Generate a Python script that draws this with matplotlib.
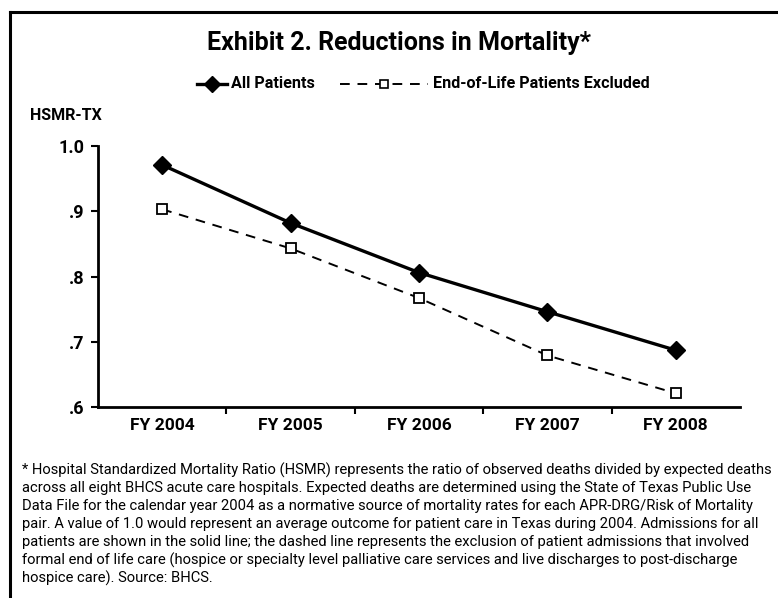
import matplotlib
matplotlib.use("Agg")
import matplotlib.pyplot as plt
from matplotlib import font_manager as fm
from matplotlib.lines import Line2D

names = {f.name for f in fm.fontManager.ttflist}
narrow = "Liberation Sans Narrow" if "Liberation Sans Narrow" in names else "Roboto"

categories = ["FY 2004", "FY 2005", "FY 2006", "FY 2007", "FY 2008"]
all_patients = [0.971, 0.882, 0.806, 0.746, 0.687]
eol_excluded = [0.903, 0.843, 0.767, 0.679, 0.621]
yticks = [0.6, 0.7, 0.8, 0.9, 1.0]
ytick_labels = [".6", ".7", ".8", ".9", "1.0"]
title = "Exhibit 2. Reductions in Mortality*"
ylabel = "HSMR-TX"
series_names = ["All Patients", "End-of-Life Patients Excluded"]
footnote = [
    "* Hospital Standardized Mortality Ratio (HSMR) represents the ratio of observed deaths divided by expected deaths",
    "across all eight BHCS acute care hospitals. Expected deaths are determined using the State of Texas Public Use",
    "Data File for the calendar year 2004 as a normative source of mortality rates for each APR-DRG/Risk of Mortality",
    "pair. A value of 1.0 would represent an average outcome for patient care in Texas during 2004. Admissions for all",
    "patients are shown in the solid line; the dashed line represents the exclusion of patient admissions that involved",
    "formal end of life care (hospice or specialty level palliative care services and live discharges to post-discharge",
    "hospice care). Source: BHCS.",
]

W, H = 778, 598
fig = plt.figure(figsize=(W / 100, H / 100), dpi=100)
fig.patch.set_facecolor("white")

# border (top and left)
fig.add_artist(Line2D([10 / W, 1.0], [1 - 12 / H, 1 - 12 / H], color="black", lw=2.2))
fig.add_artist(Line2D([10 / W, 10 / W], [0, 1 - 12 / H], color="black", lw=2.2))

ax = fig.add_axes([98 / W, 1 - 407 / H, (740 - 98) / W, (407 - 146) / H])
x = list(range(len(categories)))
ax.plot(x, all_patients, color="black", lw=2.4, marker="D", markersize=9,
        markerfacecolor="black", markeredgecolor="black", zorder=3)
ax.plot(x, eol_excluded, color="black", lw=1.4, ls=(0, (5, 4)), marker="s", markersize=6.5,
        markerfacecolor="white", markeredgecolor="black", markeredgewidth=1.3, zorder=3)

ax.set_xlim(-0.5, len(categories) - 0.5)
ax.set_ylim(0.6, 1.0)
ax.set_yticks(yticks)
ax.set_yticklabels(ytick_labels, fontsize=13, fontweight="bold", family=narrow)
ax.set_xticks(x)
ax.set_xticklabels(categories, fontsize=12.5, fontweight="bold", family=narrow)
ax.tick_params(axis="x", which="major", length=0, pad=8)
ax.set_xticks([i - 0.5 for i in range(1, len(categories))], minor=True)
ax.tick_params(axis="x", which="minor", length=5, width=1.5, direction="out")
ax.tick_params(axis="y", which="major", length=5, width=1.5, direction="out", pad=5)
for s in ["top", "right"]:
    ax.spines[s].set_visible(False)
for s in ["left", "bottom"]:
    ax.spines[s].set_linewidth(2.0)

fig.text(399 / W, 1 - 43 / H, title, ha="center", va="center", fontsize=18,
         fontweight="bold", family=narrow)
fig.text(30 / W, 1 - 115 / H, ylabel, ha="left", va="center", fontsize=11.5,
         fontweight="bold", family=narrow)

# legend
ly = 1 - 84 / H
fig.add_artist(Line2D([197 / W, 227 / W], [ly, ly], color="black", lw=2.4))
fig.add_artist(Line2D([212 / W], [ly], color="black", marker="D", markersize=8, lw=0))
fig.text(231 / W, ly, series_names[0], ha="left", va="center", fontsize=11.6,
         fontweight="bold", family=narrow)
fig.add_artist(Line2D([340 / W, 428 / W], [ly, ly], color="black", lw=1.4, ls=(0, (5, 4))))
fig.add_artist(Line2D([384 / W], [ly], color="black", marker="s", markersize=6,
                      markerfacecolor="white", markeredgewidth=1.2, lw=0))
fig.text(433 / W, ly, series_names[1], ha="left", va="center", fontsize=11.6,
         fontweight="bold", family=narrow)

for i, line in enumerate(footnote):
    fig.text(22 / W, 1 - (470 + 18 * i) / H, line, ha="left", va="center",
             fontsize=10.6, family=narrow)

fig.savefig("out.png", dpi=100, facecolor="white")
